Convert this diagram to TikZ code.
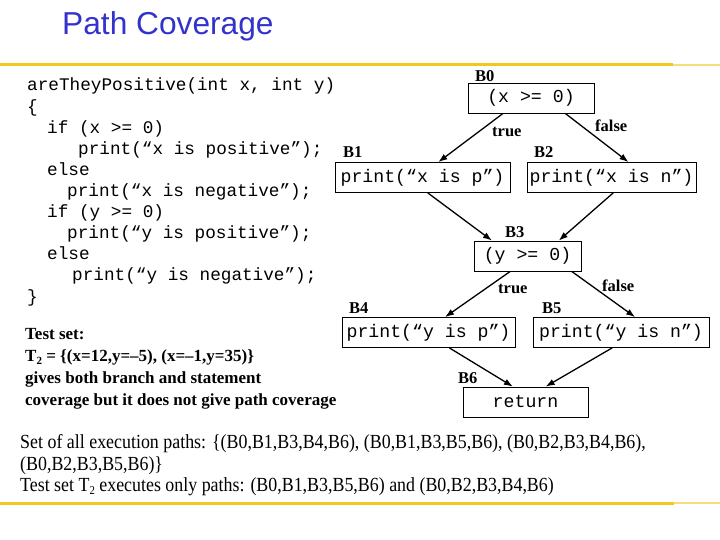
\documentclass[tikz,border=0pt]{standalone}
\usepackage{fontspec}
\setmainfont{Liberation Serif}
\newfontfamily\titlefont{Liberation Sans}
\newfontfamily\codefamily{Liberation Mono}
\usetikzlibrary{arrows.meta,calc}
\definecolor{titleblue}{RGB}{51,51,204}
\definecolor{baryellow}{RGB}{240,200,30}
\definecolor{barfade}{RGB}{246,222,120}
\tikzset{
  code/.style={anchor=base west, inner sep=0pt, font=\codefamily\fontsize{17.7}{17.7}\selectfont},
  blockbox/.style={draw, line width=0.8pt, minimum height=30pt, inner sep=0pt,
    font=\codefamily\fontsize{18.2}{18.2}\selectfont},
  blabel/.style={anchor=base west, inner sep=0pt, font=\bfseries\fontsize{16.5}{16.5}\selectfont},
  edgearrow/.style={line width=1.3pt, -{Latex[length=9pt,width=6.5pt]}},
  bar/.style={line width=3pt, baryellow},
  barend/.style={line width=2.5pt, barfade},
  testtext/.style={anchor=base west, inner sep=0pt,
    font=\bfseries\fontsize{17}{17}\selectfont},
  bottomtext/.style={anchor=base west, inner sep=0pt}
}
\begin{document}
\begin{tikzpicture}[x=1pt,y=-1pt]
\useasboundingbox (0,0) rectangle (720,540);
% title and bars
\node[anchor=base west, inner sep=0pt, text=titleblue, font=\titlefont\fontsize{31.7}{31.7}\selectfont] (title) at (62,35) {Path Coverage};
\coordinate (bt1) at (0,65); \coordinate (bt2) at (673,65); \coordinate (bt3) at (720,65);
\draw[bar] (bt1) -- (bt2);
\draw[barend] (bt2) -- (bt3);
\coordinate (bb1) at (0,503); \coordinate (bb2) at (674,503); \coordinate (bb3) at (720,503);
\draw[bar] (bb1) -- (bb2);
\draw[barend] (bb2) -- (bb3);
% code
\node[code] (c1) at (27,91) {areTheyPositive(int x, int y)};
\node[code] (c2) at (27,112.1) {\{};
\node[code] (c3) at (47,133.2) {if (x >= 0)};
\node[code] (c4) at (78,154.3) {print(“x is positive”);};
\node[code] (c5) at (47,175.4) {else};
\node[code] (c6) at (67,196.5) {print(“x is negative”);};
\node[code] (c7) at (47,217.6) {if (y >= 0)};
\node[code] (c8) at (67,238.7) {print(“y is positive”);};
\node[code] (c9) at (47,259.8) {else};
\node[code] (c10) at (72,280.9) {print(“y is negative”);};
\node[code] (c11) at (27,302) {\}};
% test set text
\node[testtext] (ts1) at (25,339.5) {Test set:};
\node[testtext] (ts2) at (25,361.5) {T\raisebox{-0.35ex}{\fontsize{11}{11}\selectfont 2} = \{(x=12,y=–5), (x=–1,y=35)\}};
\node[testtext] (ts3) at (25,383.5) {gives both branch and statement};
\node[testtext] (ts4) at (25,405.5) {coverage but it does not give path coverage};
% blocks
\node[blockbox, minimum width=126pt] (b0) at (531,98) {(x >= 0)};
\node[blockbox, minimum width=175pt] (b1) at (422.5,177.5) {print(“x is p”)};
\node[blockbox, minimum width=169pt] (b2) at (611.5,177.5) {print(“x is n”)};
\node[blockbox, minimum width=107pt] (b3) at (527.5,256) {(y >= 0)};
\node[blockbox, minimum width=173pt] (b4) at (428.5,332.5) {print(“y is p”)};
\node[blockbox, minimum width=176pt] (b5) at (621,332.5) {print(“y is n”)};
\node[blockbox, minimum width=125pt] (b6) at (525.5,402) {return};
% labels
\node[blabel] (l0) at (475,82) {B0};
\node[blabel] (l1) at (343,158) {B1};
\node[blabel] (l2) at (534,158) {B2};
\node[blabel] (l3) at (505,237) {B3};
\node[blabel] (l4) at (349,313) {B4};
\node[blabel] (l5) at (542,313) {B5};
\node[blabel] (l6) at (458,383) {B6};
\node[blabel] (t1) at (492,137) {true};
\node[blabel] (f1) at (595,132) {false};
\node[blabel] (t2) at (498,293) {true};
\node[blabel] (f2) at (602,291) {false};
% edges
\draw[edgearrow] ($(b0.south west)!0.28!(b0.south east)$) -- ($(b1.north west)!0.59!(b1.north east)$);
\draw[edgearrow] ($(b0.south west)!0.77!(b0.south east)$) -- ($(b2.north west)!0.60!(b2.north east)$);
\draw[edgearrow] ($(b1.south west)!0.53!(b1.south east)$) -- ($(b3.north west)!0.17!(b3.north east)$);
\draw[edgearrow] ($(b2.south west)!0.51!(b2.south east)$) -- ($(b3.north west)!0.79!(b3.north east)$);
\draw[edgearrow] ($(b3.south west)!0.34!(b3.south east)$) -- ($(b4.north west)!0.595!(b4.north east)$);
\draw[edgearrow] ($(b3.south west)!0.91!(b3.south east)$) -- ($(b5.north west)!0.58!(b5.north east)$);
\draw[edgearrow] ($(b4.south west)!0.62!(b4.south east)$) -- ($(b6.north west)!0.40!(b6.north east)$);
\draw[edgearrow] ($(b5.south west)!0.45!(b5.south east)$) -- ($(b6.north west)!0.66!(b6.north east)$);
% bottom text
\node[bottomtext] (p1) at (20,448) {\scalebox{0.895}[1]{\fontsize{20}{20}\selectfont Set of all execution paths: \{(B0,B1,B3,B4,B6), (B0,B1,B3,B5,B6), (B0,B2,B3,B4,B6),}};
\node[bottomtext] (p2) at (20,470) {\scalebox{0.895}[1]{\fontsize{20}{20}\selectfont (B0,B2,B3,B5,B6)\}}};
\node[bottomtext] (p3) at (20,491.7) {\scalebox{0.895}[1]{\fontsize{20}{20}\selectfont Test set T\raisebox{-0.35ex}{\fontsize{12}{12}\selectfont 2} executes only paths: (B0,B1,B3,B5,B6) and (B0,B2,B3,B4,B6)}};
\end{tikzpicture}
\end{document}
